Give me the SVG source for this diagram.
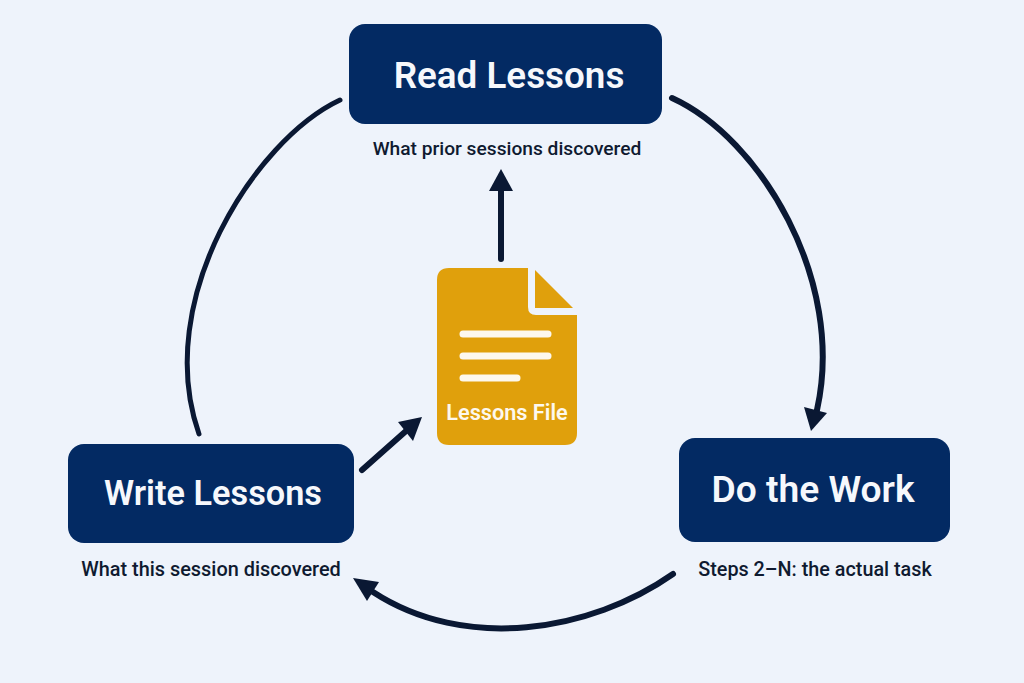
<svg xmlns="http://www.w3.org/2000/svg" width="1024" height="683" viewBox="0 0 1024 683">
<style>
.box{fill:#032a63}
.title{font-family:Roboto,"Liberation Sans",sans-serif;font-weight:600;fill:#f6f8fc;text-anchor:middle}
.sub{font-family:Roboto,"Liberation Sans",sans-serif;font-weight:500;fill:#0f1a30;text-anchor:middle}
.conn{fill:none;stroke:#0a1833;stroke-width:6;stroke-linecap:round}
.head{fill:#0a1833}
.ln{stroke:#fdf8ee;stroke-width:7;stroke-linecap:round}
</style>
<rect width="1024" height="683" fill="#eef3fb"/>
<g id="connectors">
<path class="conn" d="M672 98C760 138 846 280 817 410"/>
<path class="head" d="M804 407L827 413L811 431Z"/>
<path class="conn" d="M673 574C590 632 465 652 373 592"/>
<path class="head" d="M353 578L379 582L367 601Z"/>
<path class="conn" style="stroke-width:5" d="M199 434C152 300 255 140 340 100"/>
<path class="conn" d="M501 259V188"/>
<path class="head" d="M501 169L513 191H489Z"/>
<path class="conn" d="M362 470L406 431"/>
<path class="head" d="M422 417L413 441L398 422Z"/>
</g>
<g id="read-lessons">
<rect class="box" x="349" y="24" width="313" height="100" rx="16"/>
<text class="title" x="509" y="88" font-size="36.8">Read Lessons</text>
<text class="sub" x="507" y="155" font-size="19.2">What prior sessions discovered</text>
</g>
<g id="do-the-work">
<rect class="box" x="679" y="438" width="271" height="104" rx="16"/>
<text class="title" x="813" y="502" font-size="37.2">Do the Work</text>
<text class="sub" x="815" y="576" font-size="19.8">Steps 2–N: the actual task</text>
</g>
<g id="write-lessons">
<rect class="box" x="68" y="444" width="286" height="99" rx="16"/>
<text class="title" x="213" y="505" font-size="34.3">Write Lessons</text>
<text class="sub" x="211" y="576" font-size="19.9">What this session discovered</text>
</g>
<g id="lessons-file">
<path d="M449 268H528V307Q528 315 536 315H577V433Q577 445 565 445H449Q437 445 437 433V280Q437 268 449 268Z" fill="#e0a00c"/>
<path d="M535 270L573 308H535Z" fill="#e0a00c"/>
<line class="ln" x1="463" y1="334" x2="548" y2="334"/>
<line class="ln" x1="463" y1="356" x2="548" y2="356"/>
<line class="ln" x1="463" y1="378" x2="517" y2="378"/>
<text x="507" y="420" font-family="Roboto,'Liberation Sans',sans-serif" font-weight="600" font-size="21.7" fill="#fdf8ee" text-anchor="middle">Lessons File</text>
</g>
</svg>
